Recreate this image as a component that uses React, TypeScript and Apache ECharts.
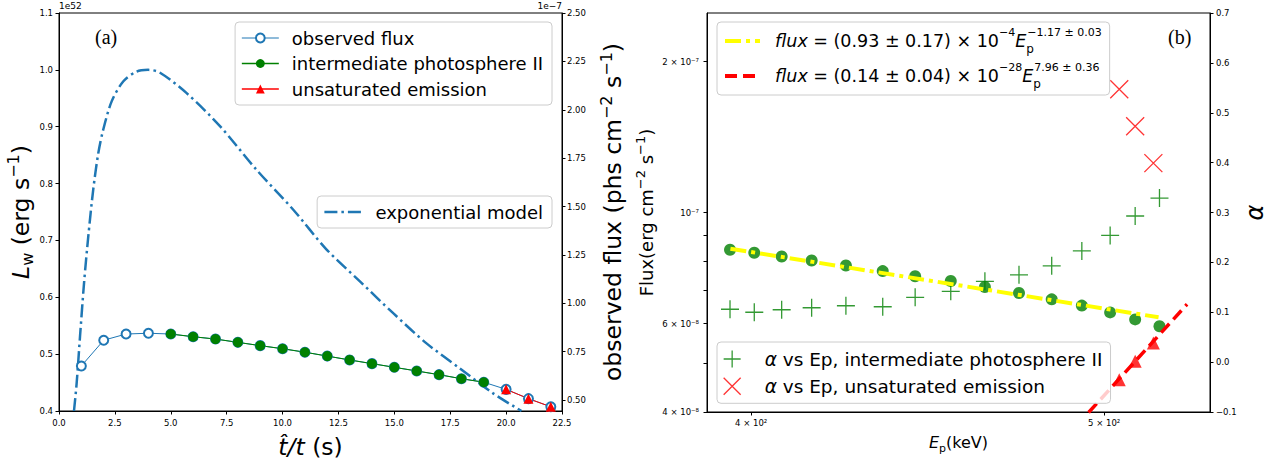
import React, { useEffect, useRef } from 'react';
import * as echarts from 'echarts';

// ---------- Panel (a) data ----------
const obsT = [1, 2, 3, 4, 5, 6, 7, 8, 9, 10, 11, 12, 13, 14, 15, 16, 17, 18, 19, 20, 21, 22];
const obsFlux = [0.676, 0.809, 0.841, 0.845, 0.841, 0.827, 0.815, 0.798, 0.781, 0.765, 0.747, 0.727, 0.707, 0.688, 0.669, 0.650, 0.631, 0.610, 0.592, 0.555, 0.507, 0.465];
const ipT = [5, 6, 7, 8, 9, 10, 11, 12, 13, 14, 15, 16, 17, 18, 19];
const ipFlux = [0.841, 0.827, 0.815, 0.798, 0.781, 0.765, 0.747, 0.727, 0.707, 0.688, 0.669, 0.650, 0.631, 0.610, 0.592];
const ueT = [20, 21, 22];
const ueFlux = [0.555, 0.507, 0.465];
const expT = [0.67, 0.79, 0.94, 1.12, 1.31, 1.53, 1.76, 1.98, 2.36, 2.88, 3.47, 3.99, 4.52, 5.71, 7.2, 8.84, 10.48, 11.97, 13.46, 14.95, 16.44, 17.93, 19.42, 20.69];
const expL = [0.400, 0.449, 0.531, 0.625, 0.707, 0.789, 0.854, 0.895, 0.945, 0.980, 0.997, 1.000, 0.995, 0.959, 0.901, 0.824, 0.754, 0.684, 0.628, 0.572, 0.519, 0.475, 0.431, 0.400];
const rightFluxTicks = [0.5, 0.75, 1.0, 1.25, 1.5, 1.75, 2.0, 2.25, 2.5];

// ---------- Panel (b) data ----------
const epIP = [394.7, 400.8, 407.8, 415.6, 424.7, 434.7, 443.7, 453.8, 463.7, 473.8, 483.7, 493.0, 501.9, 509.9, 517.8];
const fluxIP = [8.43e-8, 8.31e-8, 8.17e-8, 8.02e-8, 7.84e-8, 7.64e-8, 7.46e-8, 7.30e-8, 7.10e-8, 6.91e-8, 6.71e-8, 6.52e-8, 6.32e-8, 6.12e-8, 5.93e-8];
const alphaIP = [0.106, 0.100, 0.105, 0.109, 0.113, 0.111, 0.130, 0.142, 0.162, 0.175, 0.193, 0.223, 0.254, 0.293, 0.329];
const epUE = [504.8, 509.9, 515.8];
const fluxUE = [4.64e-8, 5.05e-8, 5.49e-8];
const alphaUE = [0.547, 0.473, 0.399];
const fitIPEp = [394.8, 517.5];
const fitIPFlux = [8.47e-8, 6.18e-8];
const fitUEEp = [495.1, 526.9];
const fitUEFlux = [3.99e-8, 6.56e-8];
const logFluxTicks = [4e-8, 5e-8, 6e-8, 7e-8, 8e-8, 9e-8, 1e-7, 2e-7];
const logFluxLabelValues = [4e-8, 6e-8, 1e-7, 2e-7];
const logFluxLabels = ['4 × 10⁻⁸', '6 × 10⁻⁸', '10⁻⁷', '2 × 10⁻⁷'];
const epTickValues = [400, 500];
const epTickLabels = ['4 × 10²', '5 × 10²'];

const FONT = 'DejaVu Sans';
const BLUE = '#1f77b4';

const zip = (a: number[], b: number[]) => a.map((v, i) => [v, b[i]]);

const nearestLabel = (vals: number[], labels: string[], v: number) => {
  let best = 0;
  for (let i = 1; i < vals.length; i++) {
    if (Math.abs(Math.log(vals[i] / v)) < Math.abs(Math.log(vals[best] / v))) best = i;
  }
  return labels[best];
};

const rich = (base: number, lh: number, supSize?: number) => {
  const s = supSize || Math.round(base * 0.7);
  return {
    it: { fontStyle: 'italic', fontSize: base, fontFamily: FONT, color: '#000', lineHeight: lh },
    sup: { fontSize: s, fontFamily: FONT, color: '#000', verticalAlign: 'top', lineHeight: s + 2 },
    sub: { fontSize: Math.round(base * 0.7), fontFamily: FONT, color: '#000', verticalAlign: 'bottom', lineHeight: Math.round(base * 0.7) + 2 },
    subz: { fontSize: Math.round(base * 0.7), fontFamily: FONT, color: '#000', verticalAlign: 'bottom', lineHeight: Math.round(base * 0.7) + 2, width: 1 },
  };
};

const axisCommon = {
  axisLine: { show: true, onZero: false, lineStyle: { color: '#000', width: 1 } },
  axisTick: { show: true, length: 3.5, lineStyle: { color: '#000', width: 1 } },
  splitLine: { show: false },
};

const legendNames: Record<string, string> = {
  fitIP: '{it|flux} = (0.93 ± 0.17) × 10{sup|−4}{it|E}{subz|p}{sup|−1.17 ± 0.03}',
  fitUE: '{it|flux} = (0.14 ± 0.04) × 10{sup|−28}{it|E}{subz|p}{sup|7.96 ± 0.36}',
  alphaIP: '{it|α} vs Ep, intermediate photosphere II',
  alphaUE: '{it|α} vs Ep, unsaturated emission',
};

export default function App() {
  const ref = useRef<HTMLDivElement>(null);
  useEffect(() => {
    if (!ref.current) return;
    const chart = echarts.init(ref.current, undefined, { renderer: 'svg' });
    const legendBox = {
      orient: 'vertical',
      backgroundColor: 'rgba(255,255,255,0.8)',
      borderColor: '#cccccc',
      borderWidth: 1,
      borderRadius: 4,
      selectedMode: false,
      z: 10,
    };
    const option: any = {
      animation: false,
      textStyle: { fontFamily: FONT },
      grid: [
        { left: 59, top: 13, width: 503, height: 398, show: true, borderColor: '#000', borderWidth: 1, outerBoundsMode: 'none', containLabel: false },
        { left: 707, top: 13, width: 503, height: 399, show: true, borderColor: '#000', borderWidth: 1, outerBoundsMode: 'none', containLabel: false },
      ],
      xAxis: [
        {
          gridIndex: 0, type: 'value', min: 0, max: 22.5, interval: 2.5, ...axisCommon,
          axisLabel: { fontSize: 8.5, color: '#000', margin: 7, fontFamily: FONT, formatter: (v: number) => v.toFixed(1) },
          name: '{it|t̂/t} (s)', nameLocation: 'middle', nameGap: 19,
          nameTextStyle: { fontSize: 23.5, fontFamily: FONT, color: '#000', lineHeight: 30, rich: rich(23.5, 30) },
        },
        {
          gridIndex: 1, type: 'log', logBase: 10, min: 389, max: 534.6, ...axisCommon,
          axisTick: { show: true, length: 3.5, lineStyle: { color: '#000', width: 1 }, customValues: epTickValues },
          axisLabel: { fontSize: 8.5, color: '#000', margin: 6, fontFamily: FONT, customValues: epTickValues, formatter: (v: number) => nearestLabel(epTickValues, epTickLabels, v) },
          name: '{it|E}{sub|p}(keV)', nameLocation: 'middle', nameGap: 18,
          nameTextStyle: { fontSize: 16, fontFamily: FONT, color: '#000', lineHeight: 22, rich: rich(16, 22) },
        },
      ],
      yAxis: [
        {
          gridIndex: 0, type: 'value', position: 'left', min: 0.4, max: 1.1, interval: 0.1, ...axisCommon,
          axisLabel: { fontSize: 8.5, color: '#000', margin: 6, fontFamily: FONT, formatter: (v: number) => v.toFixed(1) },
          name: '{it|L}{sub|w} (erg s{sup|−1})', nameLocation: 'middle', nameRotate: 90, nameGap: 15,
          nameTextStyle: { fontSize: 23.5, fontFamily: FONT, color: '#000', lineHeight: 30, rich: rich(23.5, 30) },
        },
        {
          gridIndex: 0, type: 'value', position: 'right', min: 0.4432, max: 2.5, ...axisCommon,
          axisTick: { show: true, length: 3.5, lineStyle: { color: '#000', width: 1 }, customValues: rightFluxTicks },
          axisLabel: { fontSize: 8.5, color: '#000', margin: 5, fontFamily: FONT, customValues: rightFluxTicks, formatter: (v: number) => v.toFixed(2) },
          name: 'observed flux (phs cm{sup|−2} s{sup|−1})', nameLocation: 'middle', nameRotate: 90, nameGap: 36,
          nameTextStyle: { fontSize: 23.5, fontFamily: FONT, color: '#000', lineHeight: 30, rich: rich(23.5, 30) },
        },
        {
          gridIndex: 1, type: 'log', logBase: 10, position: 'left', min: 4e-8, max: 2.5e-7, ...axisCommon,
          axisTick: { show: true, length: 3.5, lineStyle: { color: '#000', width: 1 }, customValues: logFluxTicks },
          axisLabel: { fontSize: 8.5, color: '#000', margin: 8, fontFamily: FONT, customValues: logFluxLabelValues, formatter: (v: number) => nearestLabel(logFluxLabelValues, logFluxLabels, v) },
          name: 'Flux(erg cm{sup|−2} s{sup|−1})', nameLocation: 'middle', nameRotate: 90, nameGap: 45,
          nameTextStyle: { fontSize: 18, fontFamily: FONT, color: '#000', lineHeight: 24, rich: rich(18, 24) },
        },
        {
          gridIndex: 1, type: 'value', position: 'right', min: -0.1, max: 0.7, interval: 0.1, ...axisCommon,
          axisLabel: { fontSize: 8.5, color: '#000', margin: 6, fontFamily: FONT, formatter: (v: number) => (v < -1e-9 ? '−' + Math.abs(v).toFixed(1) : Math.abs(v).toFixed(1)) },
          name: '{it|α}', nameLocation: 'middle', nameRotate: 90, nameGap: 30,
          nameTextStyle: { fontSize: 24, fontFamily: FONT, color: '#000', lineHeight: 28, rich: rich(24, 28) },
        },
      ],
      legend: [
        {
          ...legendBox, right: 719, top: 22, itemWidth: 37, itemHeight: 11, itemGap: 5.5,
          padding: [6, 9, 6, 6],
          textStyle: { fontFamily: FONT, fontSize: 18, color: '#000', lineHeight: 20, padding: [0, 0, 0, 8] },
          data: [
            { name: 'observed flux', lineStyle: { width: 1 } },
            { name: 'intermediate photosphere II', lineStyle: { width: 1.5 }, itemStyle: { borderWidth: 0 } },
            { name: 'unsaturated emission', lineStyle: { width: 1.5 }, itemStyle: { borderWidth: 0 } },
          ],
        },
        {
          ...legendBox, right: 719, top: 196, itemWidth: 37, itemHeight: 11, itemGap: 5,
          padding: [6, 9, 6, 6],
          textStyle: { fontFamily: FONT, fontSize: 18, color: '#000', lineHeight: 20, padding: [0, 0, 0, 9] },
          data: [{ name: 'exponential model', lineStyle: { width: 2.5 }, itemStyle: { opacity: 0 } }],
        },
        {
          ...legendBox, left: 717, top: 22, itemWidth: 35, itemHeight: 14, itemGap: 7,
          padding: [5, 8, 5, 6],
          textStyle: { fontFamily: FONT, fontSize: 17.5, color: '#000', lineHeight: 28, padding: [0, 0, 0, 10], rich: rich(17.5, 28, 11) },
          formatter: (n: string) => legendNames[n] || n,
          data: [
            { name: 'fitIP', lineStyle: { width: 4 }, itemStyle: { opacity: 0 } },
            { name: 'fitUE', lineStyle: { width: 4 }, itemStyle: { opacity: 0 } },
          ],
        },
        {
          ...legendBox, left: 717, top: 342, itemWidth: 35, itemHeight: 17, itemGap: 5.3,
          padding: [6, 8, 6, 6],
          textStyle: { fontFamily: FONT, fontSize: 18.5, color: '#000', lineHeight: 22, padding: [0, 0, 0, 10], rich: rich(18.5, 22) },
          formatter: (n: string) => legendNames[n] || n,
          data: [
            { name: 'alphaIP', itemStyle: { borderWidth: 1.3 } },
            { name: 'alphaUE', itemStyle: { borderWidth: 1.3 } },
          ],
        },
      ],
      graphic: [
        { type: 'text', left: 59, top: 1, style: { text: '1e52', fontSize: 9, fontFamily: FONT, fill: '#000' } },
        { type: 'text', right: 1271 - 562, top: 1, style: { text: '1e−7', fontSize: 9, fontFamily: FONT, fill: '#000' } },
        { type: 'text', left: 95, top: 27, style: { text: '(a)', fontSize: 20, fontFamily: 'Liberation Serif', fill: '#000' } },
        { type: 'text', left: 1168, top: 27, style: { text: '(b)', fontSize: 20, fontFamily: 'Liberation Serif', fill: '#000' } },
      ],
      series: [
        {
          name: 'exponential model', type: 'line', xAxisIndex: 0, yAxisIndex: 0, data: zip(expT, expL),
          symbol: 'none', smooth: 0.3, clip: true,
          lineStyle: { color: BLUE, width: 2.5, type: [13, 4, 2.5, 4] }, itemStyle: { color: BLUE },
        },
        {
          name: 'observed flux', type: 'line', xAxisIndex: 0, yAxisIndex: 1, data: zip(obsT, obsFlux),
          symbol: 'emptyCircle', symbolSize: 9,
          lineStyle: { color: BLUE, width: 1 }, itemStyle: { color: BLUE, borderWidth: 1 },
        },
        {
          name: 'intermediate photosphere II', type: 'line', xAxisIndex: 0, yAxisIndex: 1, data: zip(ipT, ipFlux),
          symbol: 'circle', symbolSize: 10,
          lineStyle: { color: 'green', width: 1 }, itemStyle: { color: 'green', borderWidth: 0 },
        },
        {
          name: 'unsaturated emission', type: 'line', xAxisIndex: 0, yAxisIndex: 1, data: zip(ueT, ueFlux),
          symbol: 'triangle', symbolSize: 10,
          lineStyle: { color: 'red', width: 1 }, itemStyle: { color: 'red', borderWidth: 0 },
        },
        {
          name: 'fluxIP', type: 'scatter', xAxisIndex: 1, yAxisIndex: 2, data: zip(epIP, fluxIP),
          symbol: 'circle', symbolSize: 12, itemStyle: { color: 'green' },
        },
        {
          name: 'alphaIP', type: 'scatter', xAxisIndex: 1, yAxisIndex: 3, data: zip(epIP, alphaIP),
          symbol: 'path://M0,5L10,5M5,0L5,10', symbolSize: 18,
          itemStyle: { color: 'green', borderColor: 'green', borderWidth: 1.3 },
        },
        {
          name: 'alphaUE', type: 'scatter', xAxisIndex: 1, yAxisIndex: 3, data: zip(epUE, alphaUE),
          symbol: 'path://M0,0L10,10M10,0L0,10', symbolSize: 18,
          itemStyle: { color: 'red', borderColor: 'red', borderWidth: 1.3 },
        },
        {
          name: 'fluxUE', type: 'scatter', xAxisIndex: 1, yAxisIndex: 2, data: zip(epUE, fluxUE),
          symbol: 'triangle', symbolSize: 13, itemStyle: { color: 'red' },
        },
        {
          name: 'fitIP', type: 'line', xAxisIndex: 1, yAxisIndex: 2, data: zip(fitIPEp, fitIPFlux),
          symbol: 'none', lineStyle: { color: '#ffff00', width: 4, type: [16, 5, 4, 5] }, itemStyle: { color: '#ffff00' },
        },
        {
          name: 'fitUE', type: 'line', xAxisIndex: 1, yAxisIndex: 2, data: zip(fitUEEp, fitUEFlux),
          symbol: 'none', clip: true, lineStyle: { color: 'red', width: 3.5, type: [12, 6] }, itemStyle: { color: 'red' },
        },
      ],
    };
    chart.setOption(option);
    return () => chart.dispose();
  }, []);
  return <div ref={ref} style={{ position: 'fixed', left: 0, top: 0, width: 1271, height: 460, background: '#fff' }} />;
}
